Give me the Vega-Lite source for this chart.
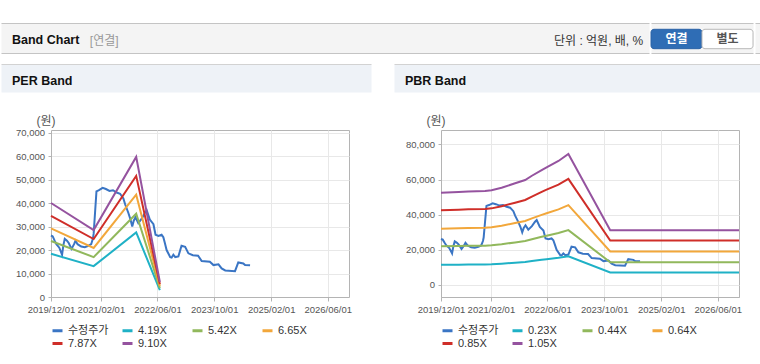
{
  "$schema": "https://vega.github.io/schema/vega-lite/v6.json",
  "padding": {"top": 22, "left": 0, "right": 0, "bottom": 0},
  "background": "#ffffff",
  "config": {
    "font": "Liberation Sans, Noto Sans CJK KR",
    "view": {"stroke": null}
  },
  "datasets": {
    "price": [
      {"d":"2019-12-01","v":26200},{"d":"2019-12-16","v":25800},{"d":"2020-01-01","v":24000},{"d":"2020-01-16","v":22500},
      {"d":"2020-02-10","v":21000},{"d":"2020-03-05","v":18000},{"d":"2020-03-16","v":22000},{"d":"2020-03-28","v":24800},
      {"d":"2020-04-16","v":24000},{"d":"2020-05-01","v":23000},{"d":"2020-05-25","v":20500},{"d":"2020-06-16","v":22500},
      {"d":"2020-06-28","v":24000},{"d":"2020-07-16","v":22500},{"d":"2020-08-16","v":21500},{"d":"2020-09-16","v":21200},
      {"d":"2020-10-16","v":21800},{"d":"2020-11-10","v":22500},{"d":"2020-11-25","v":25000},{"d":"2020-12-01","v":27000},
      {"d":"2020-12-13","v":36000},{"d":"2020-12-25","v":45000},{"d":"2021-01-16","v":45500},{"d":"2021-02-16","v":46500},
      {"d":"2021-03-16","v":46000},{"d":"2021-04-16","v":45200},{"d":"2021-05-16","v":45500},{"d":"2021-06-16","v":44500},
      {"d":"2021-07-16","v":44000},{"d":"2021-08-13","v":42000},{"d":"2021-08-28","v":39500},{"d":"2021-09-25","v":35800},
      {"d":"2021-10-13","v":33000},{"d":"2021-10-28","v":30000},{"d":"2021-11-10","v":32500},{"d":"2021-11-25","v":34000},
      {"d":"2021-12-19","v":31500},{"d":"2022-01-19","v":33500},{"d":"2022-02-15","v":36000},{"d":"2022-03-01","v":37000},
      {"d":"2022-03-28","v":33000},{"d":"2022-04-28","v":31000},{"d":"2022-05-16","v":26500},{"d":"2022-06-10","v":26000},
      {"d":"2022-07-07","v":26500},{"d":"2022-07-22","v":25500},{"d":"2022-08-04","v":23000},{"d":"2022-08-19","v":20000},
      {"d":"2022-09-19","v":17000},{"d":"2022-10-01","v":16800},{"d":"2022-10-16","v":18000},{"d":"2022-11-01","v":17000},
      {"d":"2022-11-28","v":17300},{"d":"2022-12-25","v":21800},{"d":"2023-01-25","v":21400},{"d":"2023-02-22","v":18600},
      {"d":"2023-04-01","v":17800},{"d":"2023-05-16","v":17600},{"d":"2023-06-16","v":15300},{"d":"2023-08-25","v":15000},
      {"d":"2023-09-25","v":13600},{"d":"2023-11-07","v":13900},{"d":"2023-12-04","v":12200},{"d":"2024-01-04","v":11300},
      {"d":"2024-03-28","v":11000},{"d":"2024-04-25","v":14700},{"d":"2024-06-07","v":14300},{"d":"2024-06-22","v":13600},
      {"d":"2024-08-04","v":13500}
    ],
    "per": [
      {"s":"4.19X","d":"2019-12-01","v":18400},{"s":"4.19X","d":"2020-12-01","v":13150},{"s":"4.19X","d":"2021-12-01","v":27500},{"s":"4.19X","d":"2022-06-22","v":2950},
      {"s":"5.42X","d":"2019-12-01","v":23850},{"s":"5.42X","d":"2020-12-01","v":17000},{"s":"5.42X","d":"2021-12-01","v":35500},{"s":"5.42X","d":"2022-06-22","v":3800},
      {"s":"6.65X","d":"2019-12-01","v":29250},{"s":"6.65X","d":"2020-12-01","v":20900},{"s":"6.65X","d":"2021-12-01","v":43600},{"s":"6.65X","d":"2022-06-22","v":4650},
      {"s":"7.87X","d":"2019-12-01","v":34600},{"s":"7.87X","d":"2020-12-01","v":24700},{"s":"7.87X","d":"2021-12-01","v":51600},{"s":"7.87X","d":"2022-06-22","v":5500},
      {"s":"9.10X","d":"2019-12-01","v":40050},{"s":"9.10X","d":"2020-12-01","v":28550},{"s":"9.10X","d":"2021-12-01","v":59700},{"s":"9.10X","d":"2022-06-22","v":6370}
    ],
    "pbr": [
      {"s":"0.23X","d":"2019-12-01","v":11500},{"s":"0.23X","d":"2020-05-01","v":11590},{"s":"0.23X","d":"2020-07-22","v":11660},{"s":"0.23X","d":"2020-12-13","v":11710},{"s":"0.23X","d":"2021-02-07","v":11800},{"s":"0.23X","d":"2021-05-04","v":12120},{"s":"0.23X","d":"2021-08-28","v":12670},{"s":"0.23X","d":"2021-11-22","v":13090},{"s":"0.23X","d":"2022-01-19","v":13620},{"s":"0.23X","d":"2022-04-13","v":14330},{"s":"0.23X","d":"2022-05-25","v":14670},{"s":"0.23X","d":"2022-09-04","v":15460},{"s":"0.23X","d":"2022-11-28","v":16330},{"s":"0.23X","d":"2023-11-22","v":7100},{"s":"0.23X","d":"2026-12-01","v":7100},
      {"s":"0.44X","d":"2019-12-01","v":22000},{"s":"0.44X","d":"2020-05-01","v":22180},{"s":"0.44X","d":"2020-07-22","v":22310},{"s":"0.44X","d":"2020-12-13","v":22400},{"s":"0.44X","d":"2021-02-07","v":22570},{"s":"0.44X","d":"2021-05-04","v":23190},{"s":"0.44X","d":"2021-08-28","v":24240},{"s":"0.44X","d":"2021-11-22","v":25040},{"s":"0.44X","d":"2022-01-19","v":26050},{"s":"0.44X","d":"2022-04-13","v":27410},{"s":"0.44X","d":"2022-05-25","v":28070},{"s":"0.44X","d":"2022-09-04","v":29570},{"s":"0.44X","d":"2022-11-28","v":31240},{"s":"0.44X","d":"2023-11-22","v":12950},{"s":"0.44X","d":"2026-12-01","v":12950},
      {"s":"0.64X","d":"2019-12-01","v":32000},{"s":"0.64X","d":"2020-05-01","v":32260},{"s":"0.64X","d":"2020-07-22","v":32450},{"s":"0.64X","d":"2020-12-13","v":32580},{"s":"0.64X","d":"2021-02-07","v":32830},{"s":"0.64X","d":"2021-05-04","v":33730},{"s":"0.64X","d":"2021-08-28","v":35260},{"s":"0.64X","d":"2021-11-22","v":36420},{"s":"0.64X","d":"2022-01-19","v":37890},{"s":"0.64X","d":"2022-04-13","v":39870},{"s":"0.64X","d":"2022-05-25","v":40830},{"s":"0.64X","d":"2022-09-04","v":43010},{"s":"0.64X","d":"2022-11-28","v":45440},{"s":"0.64X","d":"2023-11-22","v":19100},{"s":"0.64X","d":"2026-12-01","v":19100},
      {"s":"0.85X","d":"2019-12-01","v":42500},{"s":"0.85X","d":"2020-05-01","v":42840},{"s":"0.85X","d":"2020-07-22","v":43100},{"s":"0.85X","d":"2020-12-13","v":43270},{"s":"0.85X","d":"2021-02-07","v":43610},{"s":"0.85X","d":"2021-05-04","v":44800},{"s":"0.85X","d":"2021-08-28","v":46840},{"s":"0.85X","d":"2021-11-22","v":48370},{"s":"0.85X","d":"2022-01-19","v":50320},{"s":"0.85X","d":"2022-04-13","v":52960},{"s":"0.85X","d":"2022-05-25","v":54230},{"s":"0.85X","d":"2022-09-04","v":57120},{"s":"0.85X","d":"2022-11-28","v":60350},{"s":"0.85X","d":"2023-11-22","v":25350},{"s":"0.85X","d":"2026-12-01","v":25350},
      {"s":"1.05X","d":"2019-12-01","v":52500},{"s":"1.05X","d":"2020-05-01","v":52920},{"s":"1.05X","d":"2020-07-22","v":53240},{"s":"1.05X","d":"2020-12-13","v":53450},{"s":"1.05X","d":"2021-02-07","v":53870},{"s":"1.05X","d":"2021-05-04","v":55340},{"s":"1.05X","d":"2021-08-28","v":57860},{"s":"1.05X","d":"2021-11-22","v":59750},{"s":"1.05X","d":"2022-01-19","v":62160},{"s":"1.05X","d":"2022-04-13","v":65420},{"s":"1.05X","d":"2022-05-25","v":66990},{"s":"1.05X","d":"2022-09-04","v":70560},{"s":"1.05X","d":"2022-11-28","v":74550},{"s":"1.05X","d":"2023-11-22","v":31150},{"s":"1.05X","d":"2026-12-01","v":31150}
    ]
  },
  "spacing": 9,
  "resolve": {"scale": {"x": "independent", "y": "independent", "color": "independent"}, "legend": {"color": "independent"}},
  "vconcat": [
    {
      "spacing": 0,
      "resolve": {"scale": {"x": "independent", "y": "independent", "color": "independent"}},
      "hconcat": [
        {
          "width": 648, "height": 30,
          "view": {"fill": "#f4f4f4", "stroke": "#c4c4c4", "strokeDash": [648, 30, 648, 30]},
          "title": {"text": "Band Chart", "anchor": "start", "frame": "group", "orient": "top", "dx": 11, "offset": -33, "baseline": "alphabetic", "fontSize": 12.5, "fontWeight": "bold", "color": "#111111"},
          "data": {"values": [{}]},
          "mark": {"type": "text", "text": ""},
          "encoding": {
            "x": {"datum": "a", "type": "nominal",
              "axis": {"orient": "top", "labels": false, "ticks": false, "domain": false, "grid": false, "title": "[연결]", "titleX": 88.3, "titleY": 21.5, "titleAlign": "left", "titleBaseline": "alphabetic", "titleAngle": 0, "titleColor": "#999999", "titleFontSize": 12, "titleFontWeight": "normal"}},
            "y": {"datum": "b", "type": "nominal",
              "axis": {"orient": "left", "labels": false, "ticks": false, "domain": false, "grid": false, "title": "단위 : 억원, 배, %", "titleX": 641.7, "titleY": 21.5, "titleAlign": "right", "titleBaseline": "alphabetic", "titleAngle": 0, "titleColor": "#333333", "titleFontSize": 12, "titleFontWeight": "normal"}}
          }
        },
        {
          "width": 102, "height": 30,
          "view": {"fill": "#f4f4f4", "stroke": "#c4c4c4", "strokeDash": [102, 30, 102, 30]},
          "data": {"values": [{"btn": "연결", "on": "y"}, {"btn": "별도", "on": "n"}]},
          "encoding": {
            "x": {"field": "btn", "type": "nominal", "sort": ["연결", "별도"], "scale": {"paddingInner": 0, "paddingOuter": 0}, "axis": null},
            "y": {"datum": "b", "type": "nominal", "scale": {"paddingInner": 0, "paddingOuter": 0.273, "align": 0.594}, "axis": null}
          },
          "layer": [
            {"mark": {"type": "rect", "cornerRadius": 3, "strokeWidth": 1},
             "encoding": {
               "fill": {"field": "on", "type": "nominal", "scale": {"domain": ["y", "n"], "range": ["#2f6db5", "#ffffff"]}, "legend": null},
               "stroke": {"field": "on", "type": "nominal", "scale": {"domain": ["y", "n"], "range": ["#2a62a6", "#b8b8b8"]}, "legend": null}
             }},
            {"mark": {"type": "text", "fontSize": 12, "fontWeight": "bold"},
             "encoding": {
               "text": {"field": "btn", "type": "nominal"},
               "color": {"field": "on", "type": "nominal", "scale": {"domain": ["y", "n"], "range": ["#ffffff", "#555555"]}, "legend": null}
             }}
          ]
        },
        {
          "width": 10, "height": 30,
          "view": {"fill": "#f4f4f4", "stroke": "#c4c4c4", "strokeDash": [10, 30, 10, 30]},
          "data": {"values": [{}]},
          "mark": {"type": "text", "text": ""}
        }
      ]
    },
    {
      "spacing": 20,
      "resolve": {"scale": {"x": "independent", "y": "independent", "color": "independent"}, "legend": {"color": "independent"}},
      "vconcat": [
        {
          "spacing": 21,
          "hconcat": [
            {"width": 370, "height": 28, "view": {"fill": "#eef2f7", "stroke": "#d2d2d2", "strokeDash": [370, 426]},
             "title": {"text": "PER Band", "anchor": "start", "frame": "group", "orient": "top", "dx": 11, "offset": -33, "baseline": "alphabetic", "fontSize": 12.5, "fontWeight": "bold", "color": "#111111"},
             "data": {"values": [{}]}, "mark": {"type": "text", "text": ""}},
            {"width": 369, "height": 28, "view": {"fill": "#eef2f7", "stroke": "#d2d2d2", "strokeDash": [369, 425]},
             "title": {"text": "PBR Band", "anchor": "start", "frame": "group", "orient": "top", "dx": 11, "offset": -33, "baseline": "alphabetic", "fontSize": 12.5, "fontWeight": "bold", "color": "#111111"},
             "data": {"values": [{}]}, "mark": {"type": "text", "text": ""}}
          ]
        },
        {
          "spacing": 10,
          "resolve": {"scale": {"x": "independent", "y": "independent", "color": "independent"}, "legend": {"color": "independent"}},
          "vconcat": [
            {
              "spacing": 0,
              "resolve": {"scale": {"x": "independent", "y": "independent", "color": "independent"}, "legend": {"color": "independent"}},
              "hconcat": [
                {"width": 1, "height": 167, "data": {"values": [{}]}, "mark": {"type": "text", "text": ""}},
                {
                  "spacing": 40,
                  "resolve": {"scale": {"x": "independent", "y": "independent", "color": "independent"}, "legend": {"color": "independent"}},
                  "hconcat": [
                    {
                      "width": 298, "height": 167,
                      "view": {"stroke": "#b4b4b4"},
                      "encoding": {
                        "x": {"field": "d", "type": "temporal",
                          "scale": {"type": "utc", "nice": false, "domain": [{"year": 2019, "month": 12, "date": 1, "utc": true}, {"year": 2026, "month": 12, "date": 1, "utc": true}]},
                          "axis": {"values": [{"year": 2019, "month": 12, "date": 1, "utc": true}, {"year": 2021, "month": 2, "date": 1, "utc": true}, {"year": 2022, "month": 6, "date": 1, "utc": true}, {"year": 2023, "month": 10, "date": 1, "utc": true}, {"year": 2025, "month": 2, "date": 1, "utc": true}, {"year": 2026, "month": 6, "date": 1, "utc": true}],
                            "format": "%Y/%m/%d", "title": null, "grid": true, "gridColor": "#e8e8e8", "tickSize": 4, "tickColor": "#b4b4b4", "domainColor": "#b4b4b4", "labelColor": "#555555", "labelFontSize": 9.5, "labelPadding": 3, "labelOverlap": false, "labelFlush": false}},
                        "y": {"field": "v", "type": "quantitative",
                          "scale": {"domain": [0, 71150], "nice": false, "zero": false},
                          "axis": {"values": [0, 10000, 20000, 30000, 40000, 50000, 60000, 70000], "format": ",d", "grid": true, "gridColor": "#e8e8e8", "tickSize": 3, "tickColor": "#b4b4b4", "domainColor": "#b4b4b4", "labelColor": "#555555", "labelFontSize": 9.5, "labelPadding": 3.5, "minExtent": 48,
                            "title": "(원)", "titleAngle": 0, "titleX": -5.6, "titleY": -10, "titleAlign": "center", "titleBaseline": "middle", "titleFontSize": 12, "titleFontWeight": "normal", "titleColor": "#555555"}}
                      },
                      "layer": [
                        {"data": {"name": "price"}, "mark": {"type": "line", "strokeWidth": 2},
                         "encoding": {"color": {"datum": "수정주가", "type": "nominal",
                           "scale": {"domain": ["수정주가", "4.19X", "5.42X", "6.65X", "7.87X", "9.10X"], "range": ["#3a75c4", "#1fb1c6", "#91b85c", "#f2a73b", "#cf2e29", "#95539f"]},
                           "legend": {"orient": "bottom", "direction": "horizontal", "columns": 4, "title": null, "gridAlign": "all", "columnPadding": 7, "rowPadding": -1.5, "symbolType": "stroke", "symbolSize": 100, "symbolStrokeWidth": 3, "labelFontSize": 11, "labelColor": "#333333", "labelOffset": 4, "padding": 0, "offset": 10, "labelLimit": 0}}}},
                        {"data": {"name": "per"}, "mark": {"type": "line", "strokeWidth": 2},
                         "encoding": {"color": {"field": "s", "type": "nominal", "title": null}}}
                      ]
                    },
                    {
                      "width": 298, "height": 167,
                      "view": {"stroke": "#b4b4b4"},
                      "encoding": {
                        "x": {"field": "d", "type": "temporal",
                          "scale": {"type": "utc", "nice": false, "domain": [{"year": 2019, "month": 12, "date": 1, "utc": true}, {"year": 2026, "month": 12, "date": 1, "utc": true}]},
                          "axis": {"values": [{"year": 2019, "month": 12, "date": 1, "utc": true}, {"year": 2021, "month": 2, "date": 1, "utc": true}, {"year": 2022, "month": 6, "date": 1, "utc": true}, {"year": 2023, "month": 10, "date": 1, "utc": true}, {"year": 2025, "month": 2, "date": 1, "utc": true}, {"year": 2026, "month": 6, "date": 1, "utc": true}],
                            "format": "%Y/%m/%d", "title": null, "grid": true, "gridColor": "#e8e8e8", "tickSize": 4, "tickColor": "#b4b4b4", "domainColor": "#b4b4b4", "labelColor": "#555555", "labelFontSize": 9.5, "labelPadding": 3, "labelOverlap": false, "labelFlush": false}},
                        "y": {"field": "v", "type": "quantitative",
                          "scale": {"domain": [-6830, 88200], "nice": false, "zero": false},
                          "axis": {"values": [0, 20000, 40000, 60000, 80000], "format": ",d", "grid": true, "gridColor": "#e8e8e8", "tickSize": 3, "tickColor": "#b4b4b4", "domainColor": "#b4b4b4", "labelColor": "#555555", "labelFontSize": 9.5, "labelPadding": 3.5, "minExtent": 48,
                            "title": "(원)", "titleAngle": 0, "titleX": -5.6, "titleY": -10, "titleAlign": "center", "titleBaseline": "middle", "titleFontSize": 12, "titleFontWeight": "normal", "titleColor": "#555555"}}
                      },
                      "layer": [
                        {"data": {"name": "price"}, "mark": {"type": "line", "strokeWidth": 2},
                         "encoding": {"color": {"datum": "수정주가", "type": "nominal",
                           "scale": {"domain": ["수정주가", "0.23X", "0.44X", "0.64X", "0.85X", "1.05X"], "range": ["#3a75c4", "#1fb1c6", "#91b85c", "#f2a73b", "#cf2e29", "#95539f"]},
                           "legend": {"orient": "bottom", "direction": "horizontal", "columns": 4, "title": null, "gridAlign": "all", "columnPadding": 7, "rowPadding": -1.5, "symbolType": "stroke", "symbolSize": 100, "symbolStrokeWidth": 3, "labelFontSize": 11, "labelColor": "#333333", "labelOffset": 4, "padding": 0, "offset": 10, "labelLimit": 0}}}},
                        {"data": {"name": "pbr"}, "mark": {"type": "line", "strokeWidth": 2},
                         "encoding": {"color": {"field": "s", "type": "nominal", "title": null}}}
                      ]
                    }
                  ]
                }
              ]
            },
            {
              "spacing": 21,
              "hconcat": [
                {"width": 370, "height": 1, "view": {"fill": "#dddddd", "stroke": null}, "data": {"values": [{}]}, "mark": {"type": "text", "text": ""}},
                {"width": 369, "height": 1, "view": {"fill": "#dddddd", "stroke": null}, "data": {"values": [{}]}, "mark": {"type": "text", "text": ""}}
              ]
            }
          ]
        }
      ]
    }
  ]
}
